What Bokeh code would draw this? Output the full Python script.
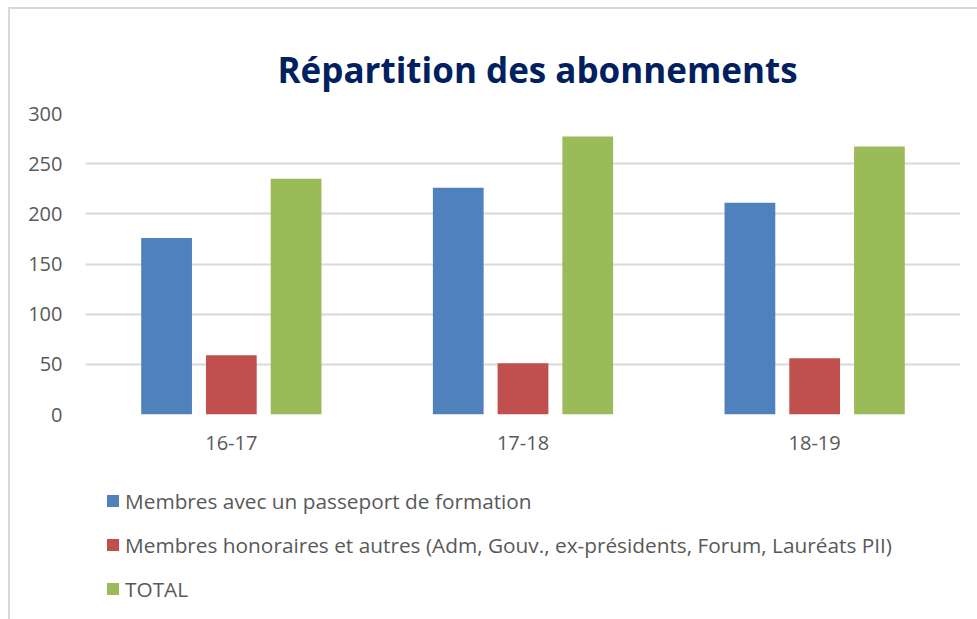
from bokeh.plotting import figure
from bokeh.layouts import column
from bokeh.models import FactorRange, FixedTicker, Legend, LegendItem
from bokeh.transform import dodge
from bokeh.embed import file_html
from bokeh.resources import INLINE

categories = ["16-17", "17-18", "18-19"]
passeport = [176, 226, 211]
honoraires = [59, 51, 56]
total = [235, 277, 267]

series_names = [
    "Membres avec un passeport de formation",
    "Membres honoraires et autres (Adm, Gouv., ex-présidents, Forum, Lauréats PII)",
    "TOTAL",
]
colors = ["#4F81BD", "#C0504D", "#9BBB59"]
y_ticks = [0, 50, 100, 150, 200, 250, 300]

TEXT = "#595959"
FONT = "Open Sans"

p = figure(
    x_range=FactorRange(*categories),
    y_range=(0, 300),
    width=967, height=461,
    output_backend="svg", toolbar_location=None,
    min_border_left=75, min_border_right=17,
    min_border_top=104, min_border_bottom=56,
    title="Répartition des abonnements",
)

p.title.text_font = FONT
p.title.text_font_style = "bold"
p.title.text_font_size = "35px"
p.title.text_color = "#002060"
p.title.align = "left"
p.title.offset = 192
p.title.standoff = 42

data = dict(cat=categories, a=passeport, b=honoraires, c=total)
offsets = [-0.222, 0.0, 0.222]
renderers = []
for key, off, col in zip(["a", "b", "c"], offsets, colors):
    r = p.vbar(x=dodge("cat", off, range=p.x_range), top=key, width=0.174,
               source=data, fill_color=col, line_color=None)
    renderers.append(r)

p.outline_line_color = None
p.background_fill_color = "white"
p.border_fill_color = "white"

p.xgrid.grid_line_color = None
p.ygrid.grid_line_color = "#D9D9D9"
p.ygrid.grid_line_width = 2
p.yaxis.ticker = FixedTicker(ticks=y_ticks)

for ax in (p.xaxis[0], p.yaxis[0]):
    ax.axis_line_color = None
    ax.major_tick_line_color = None
    ax.minor_tick_line_color = None
    ax.major_tick_out = 0
    ax.major_tick_in = 0
    ax.major_label_text_color = TEXT
    ax.major_label_text_font = FONT

p.yaxis.major_label_text_font_size = "20px"
p.xaxis.major_label_text_font_size = "20px"
p.yaxis.major_label_standoff = 23
p.xaxis.major_label_standoff = 21

# legend panel below the chart (its frame is aligned with the chart frame)
lg = figure(
    x_range=(0, 1), y_range=(1, 2),
    width=967, height=149,
    output_backend="svg", toolbar_location=None,
    x_axis_type=None, y_axis_type=None,
    min_border_left=0, min_border_right=0,
    min_border_top=0, min_border_bottom=0,
)
lg.outline_line_color = None
lg.xgrid.visible = False
lg.ygrid.visible = False
# legend swatches only (kept outside the visible range)
leg_renderers = [
    lg.vbar(x=[0], top=[0], width=0.1, fill_color=col, line_color=None)
    for col in colors
]

legend = Legend(
    items=[LegendItem(label=n, renderers=[r]) for n, r in zip(series_names, leg_renderers)],
    location=(20, 16),
    orientation="vertical",
    glyph_width=15, glyph_height=15,
    label_height=29, spacing=15,
    label_standoff=5,
    padding=0, margin=0,
    border_line_color=None,
    background_fill_alpha=0,
    label_text_font=FONT,
    label_text_font_size="20.8px",
    label_text_color=TEXT,
)
lg.add_layout(legend, "center")

layout = column(p, lg, spacing=0)
layout.styles = {
    "border-top": "2px solid #d9d9d9",
    "border-left": "2px solid #d9d9d9",
    "margin-left": "8px",
    "margin-top": "7px",
}

open("out.html", "w").write(file_html(layout, INLINE))
